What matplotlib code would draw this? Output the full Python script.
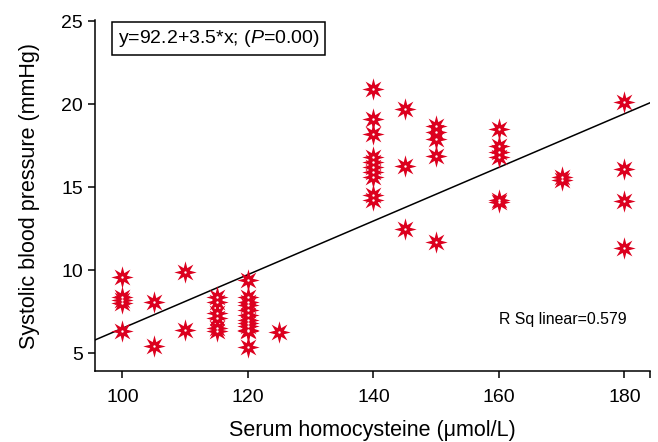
import matplotlib
matplotlib.use('Agg')
import matplotlib.pyplot as plt
import numpy as np
from matplotlib.path import Path

plt.rcParams['font.family'] = ['Liberation Sans', 'DejaVu Sans']
plt.rcParams['mathtext.fontset'] = 'custom'
plt.rcParams['mathtext.it'] = 'Liberation Sans:italic'
plt.rcParams['mathtext.rm'] = 'Liberation Sans'

# homocysteine (x) and systolic blood pressure (y)
hcy = [100, 100, 100, 100, 100,
       105, 105,
       110, 110,
       115, 115, 115, 115, 115, 115,
       120, 120, 120, 120, 120, 120, 120, 120, 120, 120, 120, 120,
       125,
       140, 140, 140, 140, 140, 140, 140, 140, 140, 140,
       145, 145, 145,
       150, 150, 150, 150, 150,
       160, 160, 160, 160, 160, 160,
       170, 170,
       180, 180, 180, 180]
sbp = [9.6, 8.4, 8.2, 8.0, 6.3,
       8.1, 5.4,
       9.9, 6.4,
       8.35, 8.1, 7.4, 7.1, 6.5, 6.3,
       9.4, 8.35, 8.1, 7.9, 7.6, 7.3, 7.0, 6.8, 6.6, 6.4, 6.3, 5.35,
       6.25,
       20.9, 19.1, 18.2, 16.8, 16.5, 16.2, 15.9, 15.6, 14.5, 14.2,
       19.7, 16.3, 12.45,
       18.7, 18.3, 17.9, 16.9, 11.7,
       18.5, 17.45, 17.1, 16.8, 14.25, 14.1,
       15.6, 15.45,
       20.1, 16.1, 14.15, 11.3]

x_ticks = [100, 120, 140, 160, 180]
y_ticks = [5, 10, 15, 20, 25]
xlim = (95.7, 184.1)
ylim = (3.9, 25.05)

red = '#dc001e'

fig = plt.figure(figsize=(6.58, 4.42), dpi=100)
ax = fig.add_axes([0.145, 0.16, 0.843, 0.794])

star = Path.unit_regular_star(8, 0.42)
ax.scatter(hcy, sbp, marker=star, s=260, color=red, linewidths=0, zorder=3)
ax.scatter(hcy, sbp, marker='o', s=3, color='white', linewidths=0, zorder=4)

# linear fit line across the whole x range
slope, icpt = np.polyfit(hcy, sbp, 1)
xs = np.array(xlim)
ax.plot(xs, icpt + slope * xs, color='black', lw=1.1, zorder=2)

ax.set_xlim(xlim)
ax.set_ylim(ylim)
ax.set_xticks(x_ticks + [xlim[1]])
ax.set_xticklabels([str(t) for t in x_ticks] + [''])
ax.set_yticks(y_ticks)
ax.spines['top'].set_visible(False)
ax.spines['right'].set_visible(False)
for s in ['left', 'bottom']:
    ax.spines[s].set_linewidth(1.1)
ax.tick_params(direction='out', length=5, width=1.1, labelsize=14)
ax.tick_params(axis='x', pad=8)
ax.tick_params(axis='y', pad=4)

ax.set_xlabel('Serum homocysteine (\u03bcmol/L)', fontsize=15.5, labelpad=10)
ax.set_ylabel('Systolic blood pressure (mmHg)', fontsize=15.5, labelpad=15)

ax.text(0.040, 0.979, 'y=92.2+3.5*x; ($\\mathit{P}$=0.00)', transform=ax.transAxes,
        fontsize=14, va='top', ha='left',
        bbox=dict(boxstyle='square,pad=0.3', fc='white', ec='black', lw=1.1))
ax.text(160.0, 7.0, 'R Sq linear=0.579', fontsize=11.4, va='center', ha='left')

fig.savefig('out.png', dpi=100)
